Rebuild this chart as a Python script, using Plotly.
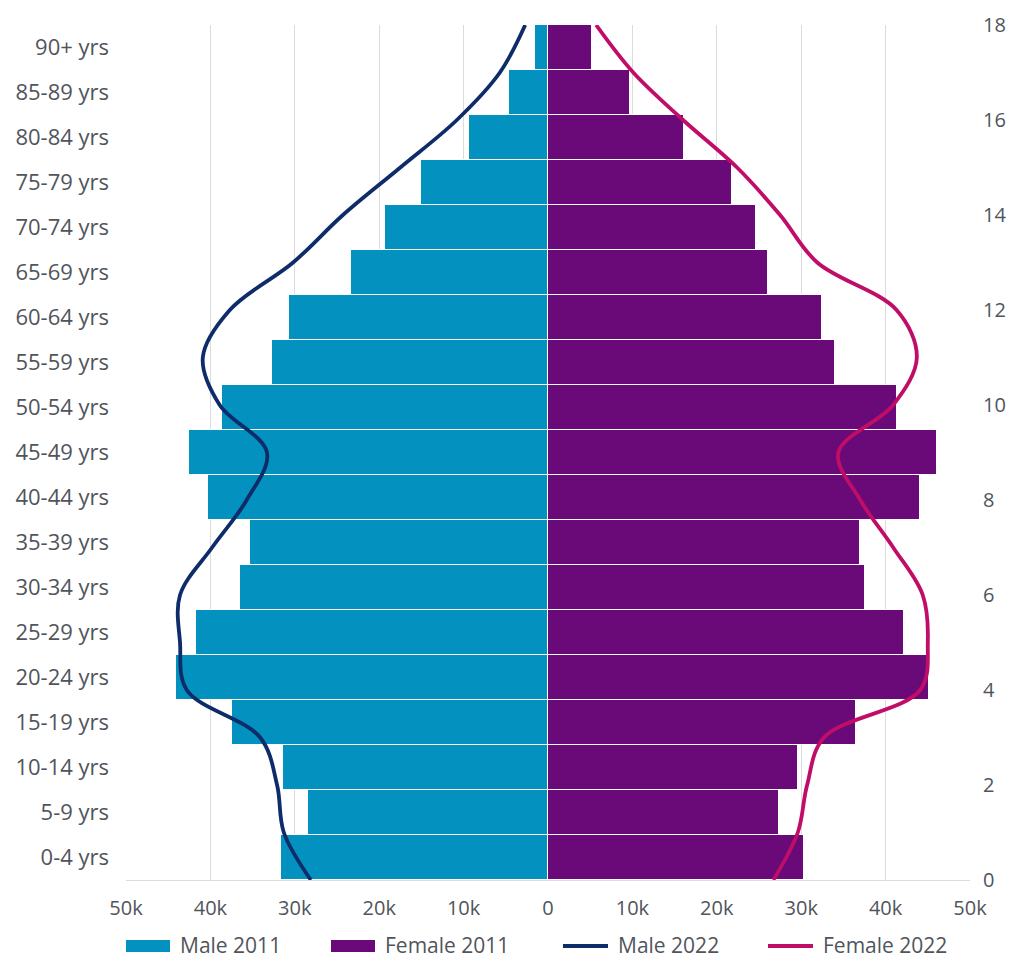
import plotly.graph_objects as go

# Age bands, youngest first (bottom of the pyramid)
age_groups = ["0-4 yrs", "5-9 yrs", "10-14 yrs", "15-19 yrs", "20-24 yrs", "25-29 yrs",
              "30-34 yrs", "35-39 yrs", "40-44 yrs", "45-49 yrs", "50-54 yrs", "55-59 yrs",
              "60-64 yrs", "65-69 yrs", "70-74 yrs", "75-79 yrs", "80-84 yrs", "85-89 yrs",
              "90+ yrs"]

# 2011 census counts
male_2011 = [31600, 28400, 31400, 37400, 44100, 41700, 36500, 35300, 40300, 42500,
             38600, 32700, 30700, 23400, 19300, 15000, 9400, 4600, 1600]
female_2011 = [30300, 27400, 29600, 36500, 45100, 42200, 37600, 37000, 44100, 46100,
               41400, 34000, 32500, 26100, 24600, 21800, 16100, 9700, 5200]

# 2022 counts, drawn as smoothed outlines on a 0-18 index scale
line_index = list(range(19))
male_2022 = [28100, 31300, 32100, 34100, 42800, 43600, 43600, 39800, 35700, 33300,
             38900, 40900, 37700, 30200, 24300, 17500, 10800, 5700, 2700]
female_2022 = [26700, 29600, 30700, 32700, 44100, 45000, 44400, 40900, 37000, 34400,
               40900, 43700, 41300, 31900, 27500, 22400, 16000, 10100, 5700]

x_ticks = [-50000, -40000, -30000, -20000, -10000, 0, 10000, 20000, 30000, 40000, 50000]
x_tick_text = ["50k", "40k", "30k", "20k", "10k", "0", "10k", "20k", "30k", "40k", "50k"]
right_ticks = [0, 2, 4, 6, 8, 10, 12, 14, 16, 18]

series_names = ["Male 2011", "Female 2011", "Male 2022", "Female 2022"]

C_MALE_11 = "#0391bf"
C_FEMALE_11 = "#6a0a78"
C_MALE_22 = "#0e2c6a"
C_FEMALE_22 = "#bf0d68"
TEXT = "#50555c"
GRID = "#dcdcdc"

W, H = 1011, 958
M_L, M_R, M_T, M_B = 126, 41, 25, 78
PLOT_W = W - M_L - M_R
PLOT_H = H - M_T - M_B


def px_to_paper(px, py):
    return (px - M_L) / PLOT_W, (H - M_B - py) / PLOT_H


fig = go.Figure()

fig.add_trace(go.Bar(
    y=age_groups, x=[-v for v in male_2011], orientation="h", name=series_names[0],
    marker=dict(color=C_MALE_11, line=dict(color="white", width=1)), showlegend=False,
))
fig.add_trace(go.Bar(
    y=age_groups, x=female_2011, orientation="h", name=series_names[1],
    marker=dict(color=C_FEMALE_11, line=dict(color="white", width=1)), showlegend=False,
))
fig.add_trace(go.Scatter(
    x=[-v for v in male_2022], y=line_index, yaxis="y2", mode="lines", name=series_names[2],
    line=dict(color=C_MALE_22, width=3.8, shape="spline", smoothing=1.0), showlegend=False,
))
fig.add_trace(go.Scatter(
    x=female_2022, y=line_index, yaxis="y2", mode="lines", name=series_names[3],
    line=dict(color=C_FEMALE_22, width=3.8, shape="spline", smoothing=1.0), showlegend=False,
))

# Legend row below the axis: wide swatches for bars, thick strokes for lines
legend_items = [
    (126, "rect", C_MALE_11),
    (331, "rect", C_FEMALE_11),
    (563, "line", C_MALE_22),
    (768, "line", C_FEMALE_22),
]
shapes = []
annotations = []
legend_y = 946
for (x0, kind, color), label in zip(legend_items, series_names):
    if kind == "rect":
        a0, b0 = px_to_paper(x0, legend_y + 6)
        a1, b1 = px_to_paper(x0 + 44, legend_y - 6)
        shapes.append(dict(type="rect", xref="paper", yref="paper", x0=a0, y0=b0, x1=a1, y1=b1,
                           fillcolor=color, line=dict(width=0), layer="above"))
        tx = x0 + 52
    else:
        a0, b0 = px_to_paper(x0, legend_y)
        a1, _ = px_to_paper(x0 + 45, legend_y)
        shapes.append(dict(type="line", xref="paper", yref="paper", x0=a0, y0=b0, x1=a1, y1=b0,
                           line=dict(color=color, width=4), layer="above"))
        tx = x0 + 53
    ax, ay = px_to_paper(tx, legend_y - 1)
    annotations.append(dict(text=label, xref="paper", yref="paper", x=ax, y=ay,
                            xanchor="left", yanchor="middle", showarrow=False,
                            font=dict(size=21, color=TEXT)))

fig.update_layout(
    width=W, height=H,
    margin=dict(l=M_L, r=M_R, t=M_T, b=M_B, autoexpand=False),
    paper_bgcolor="white", plot_bgcolor="white",
    barmode="relative", bargap=0,
    font=dict(family="Open Sans", size=20, color=TEXT),
    showlegend=False,
    shapes=shapes,
    annotations=annotations,
    xaxis=dict(
        range=[-50000, 50000], tickvals=x_ticks, ticktext=x_tick_text,
        showgrid=True, gridcolor=GRID, gridwidth=1, zeroline=False,
        showline=True, linecolor=GRID, linewidth=1, automargin=False,
        ticks="", ticklabelstandoff=10, tickfont=dict(size=20),
    ),
    yaxis=dict(
        type="category", categoryorder="array", categoryarray=age_groups,
        range=[-0.5, 18.5], showgrid=False, zeroline=False, showline=False,
        automargin=False, ticks="", ticklabelstandoff=16, tickfont=dict(size=22),
    ),
    yaxis2=dict(
        overlaying="y", side="right", range=[0, 18], tickvals=right_ticks,
        showgrid=False, zeroline=False, showline=False, automargin=False,
        ticks="", ticklabelstandoff=12, tickfont=dict(size=20),
    ),
)

fig.write_html("out.html")
